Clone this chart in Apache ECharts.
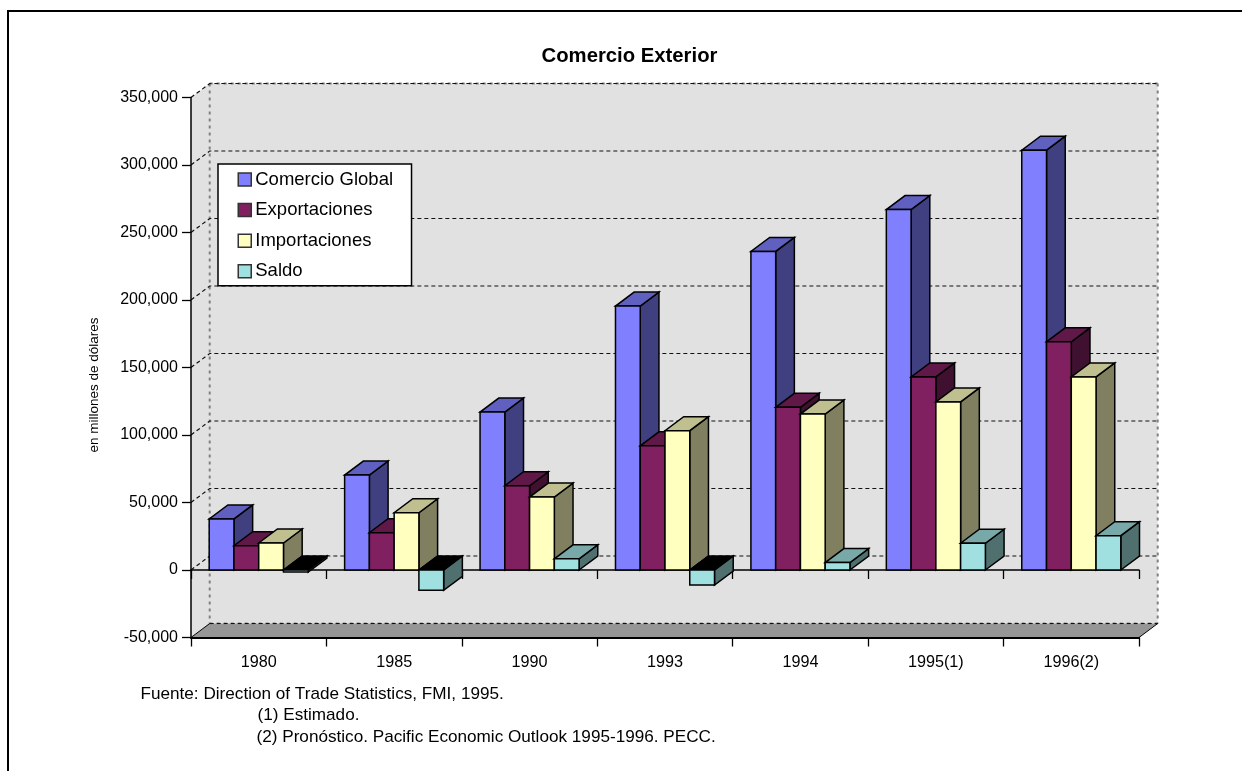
<!DOCTYPE html>
<html><head><meta charset="utf-8">
<style>html,body{margin:0;padding:0;background:#fff}#c{width:1242px;height:771px}</style>
<script src="https://cdn.jsdelivr.net/npm/echarts@6/dist/echarts.min.js"></script>
</head><body><div id="c"></div>
<script>
const categories = ['1980','1985','1990','1993','1994','1995(1)','1996(2)'];
const comercioGlobal = [37800, 70300, 117000, 195500, 236000, 267000, 311000];
const exportaciones  = [18000, 27600, 62400, 92000, 120500, 143000, 169000];
const importaciones  = [20000, 42400, 54000, 103200, 115500, 124500, 143000];
const saldo          = [-1500, -15000, 8300, -11200, 5500, 19800, 25400];
const yTicks = [-50000,0,50000,100000,150000,200000,250000,300000,350000];
const FONT = '"Liberation Sans", Arial, sans-serif';
const DX = 18.7, DY = 14, GAP = 1.47;
const palette = [
  {n:'Comercio Global', d:comercioGlobal, f:'#8080FF', t:'#6060C0', s:'#404080'},
  {n:'Exportaciones',   d:exportaciones,  f:'#802060', t:'#601848', s:'#401030'},
  {n:'Importaciones',   d:importaciones,  f:'#FFFFC0', t:'#BFBF90', s:'#808060'},
  {n:'Saldo',           d:saldo,          f:'#A0E0E0', t:'#78A8A8', s:'#507070'}
];
function poly(points, fill){
  return {type:'polygon', shape:{points}, style:{fill, stroke:'#000', lineWidth:1.5, lineJoin:'miter'}};
}
function barRender(k, col){
  return function(params, api){
    const i = api.value(0), v = api.value(1);
    const c0 = api.coord([i,0]), cv = api.coord([i,v]);
    const cw = api.size([1,0])[0], w = cw/(4+GAP);
    const x0 = c0[0]-cw/2 + w*GAP/2 + k*w, x1 = x0+w;
    const y0 = c0[1], yv = cv[1];
    const topY = Math.min(y0,yv);
    return {type:'group', children:[
      poly([[x1,y0],[x1+DX,y0-DY],[x1+DX,yv-DY],[x1,yv]], col.s),
      poly([[x0,topY],[x1,topY],[x1+DX,topY-DY],[x0+DX,topY-DY]], v<0 ? '#000' : col.t),
      poly([[x0,y0],[x1,y0],[x1,yv],[x0,yv]], col.f)
    ]};
  };
}
function wallRender(params, api){
  const g = params.coordSys;
  const L = g.x, R = g.x+g.width, T = g.y, B = g.y+g.height;
  const kids = [];
  kids.push({type:'polygon', shape:{points:[[L,T],[L+DX,T-DY],[R+DX,T-DY],[R+DX,B-DY],[L+DX,B-DY],[L,B]]}, style:{fill:'#E1E1E1'}});
  kids.push({type:'polygon', shape:{points:[[L,B],[L+DX,B-DY],[R+DX,B-DY],[R,B]]}, style:{fill:'#969696', stroke:null}});
  const wallDash = {stroke:'#808080', lineWidth:2, lineDash:[3,4]};
  kids.push({type:'line', shape:{x1:L+DX,y1:T-DY,x2:L+DX,y2:B-DY}, style:wallDash});
  kids.push({type:'line', shape:{x1:R+DX,y1:T-DY,x2:R+DX,y2:B-DY}, style:wallDash});
  kids.push({type:'line', shape:{x1:L+DX,y1:T-DY,x2:R+DX,y2:T-DY}, style:wallDash});
  kids.push({type:'line', shape:{x1:L+DX,y1:B-DY,x2:R+DX,y2:B-DY}, style:wallDash});
  const gridDash = {stroke:'#111', lineWidth:1.2, lineDash:[4,3]};
  yTicks.forEach(t=>{
    const y = api.coord([0,t])[1];
    if(t===yTicks[0]){
      kids.push({type:'line', shape:{x1:L+DX,y1:y-DY,x2:R+DX,y2:y-DY}, style:gridDash});
      kids.push({type:'line', shape:{x1:L,y1:y,x2:L+DX,y2:y-DY}, style:{stroke:'#000',lineWidth:1}});
      kids.push({type:'line', shape:{x1:R,y1:y,x2:R+DX,y2:y-DY}, style:{stroke:'#000',lineWidth:1}});
    } else {
      kids.push({type:'polyline', shape:{points:[[L,y],[L+DX,y-DY],[R+DX,y-DY]]}, style:Object.assign({fill:null},gridDash)});
    }
  });
  return {type:'group', children:kids};
}
const axisLine = w => ({show:true, lineStyle:{color:'#000', width:w}});
const axisTick = {show:true, length:9, lineStyle:{color:'#000', width:1.3}};
const option = {
  animation:false,
  backgroundColor:'#fff',
  title:{text:'Comercio Exterior', left:624.5, textAlign:'center', top:41,
    textStyle:{fontFamily:FONT, fontSize:20.3, fontWeight:'bold', color:'#000'}},
  grid:{left:191, top:97.5, width:948, height:540, containLabel:false},
  legend:{orient:'vertical', left:218, top:164, padding:[6,18.5,5,19.5], itemGap:11.6, itemWidth:13, itemHeight:13,
    backgroundColor:'#fff', borderColor:'#000', borderWidth:1.5,
    icon:'rect', textStyle:{fontFamily:FONT, fontSize:18.5, color:'#000', padding:[0,0,0,-1]},
    data:palette.map(c=>({name:c.n, itemStyle:{color:c.f, borderColor:'#333', borderWidth:1.5}}))},
  xAxis:[
    {type:'category', data:categories, position:'bottom', axisLine:Object.assign({onZero:false},axisLine(2)), axisTick,
      axisLabel:{margin:17, interval:0, fontFamily:FONT, fontSize:16.2, color:'#000'}, splitLine:{show:false}},
    {type:'category', data:categories, position:'bottom', axisLine:Object.assign({onZero:true},axisLine(1.5)), axisTick,
      axisLabel:{show:false}, splitLine:{show:false}}
  ],
  yAxis:{type:'value', min:-50000, max:350000, interval:50000,
    axisLine:Object.assign({onZero:false},axisLine(1.5)), axisTick,
    axisLabel:{margin:13, fontFamily:FONT, fontSize:16, color:'#000', padding:[2,0,0,0],
      formatter:v=>v.toString().replace(/\B(?=(\d{3})+(?!\d))/g,',')},
    splitLine:{show:false}},
  series:[
    {type:'custom', name:'walls', z:-1, silent:true, clip:false, renderItem:wallRender, data:[[0,0]], encode:{x:0,y:1}, legendHoverLink:false}
  ].concat(palette.map((c,k)=>({
    type:'custom', name:c.n, z:3+k, silent:true, clip:false, renderItem:barRender(k,c),
    itemStyle:{color:c.f},
    data:c.d.map((v,i)=>[i,v]), encode:{x:0,y:1}
  }))),
  graphic:[
    {type:'line', z:100, shape:{x1:7,y1:11,x2:1242,y2:11}, style:{stroke:'#000',lineWidth:2}},
    {type:'line', z:100, shape:{x1:8,y1:10,x2:8,y2:771}, style:{stroke:'#000',lineWidth:2}},
    {type:'text', z:100, x:94, y:385, rotation:Math.PI/2, style:{text:'en millones de dólares', font:'13.5px '+FONT, fill:'#000', textAlign:'center', textVerticalAlign:'middle'}},
    {type:'text', z:100, x:140.5, y:694.5, style:{text:'Fuente: Direction of Trade Statistics, FMI, 1995.', font:'17.15px '+FONT, fill:'#000', textVerticalAlign:'middle'}},
    {type:'text', z:100, x:257.5, y:715.5, style:{text:'(1) Estimado.', font:'17.15px '+FONT, fill:'#000', textVerticalAlign:'middle'}},
    {type:'text', z:100, x:256.5, y:737, style:{text:'(2) Pronóstico. Pacific Economic Outlook 1995-1996. PECC.', font:'17.15px '+FONT, fill:'#000', textVerticalAlign:'middle'}}
  ]
};
echarts.init(document.getElementById('c'),null,{renderer:'canvas'}).setOption(option);
</script></body></html>
